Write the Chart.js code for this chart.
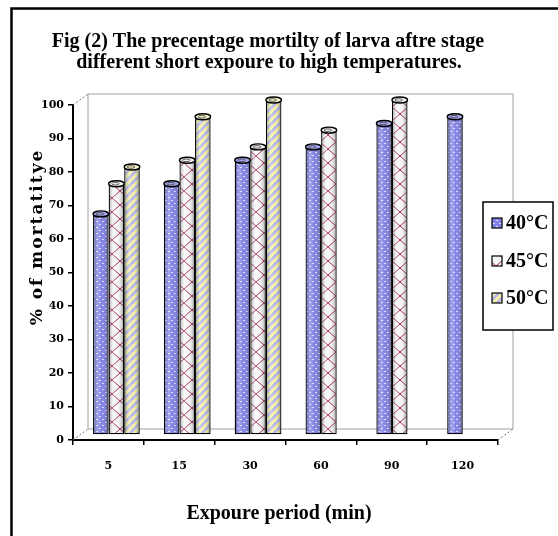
<!DOCTYPE html>
<html>
<head>
<meta charset="utf-8">
<script src="https://cdn.jsdelivr.net/npm/chart.js@4.4.1/dist/chart.umd.min.js"></script>
<style>
  html, body { margin: 0; padding: 0; background: #fff; }
  #wrap { width: 558px; height: 536px; position: relative; }
</style>
</head>
<body>
<div id="wrap"><canvas id="c" width="558" height="536"></canvas></div>
<script>
// ---- data ----
const categories = ['5', '15', '30', '60', '90', '120'];
const seriesNames = ['40°C', '45°C', '50°C'];
const s40 = [66, 75, 82, 86, 93, 95];
const s45 = [75, 82, 86, 91, 100, null];
const s50 = [80, 95, 100, null, null, null];
const titleLines = ['Fig (2) The precentage mortilty of larva aftre stage',
                    'different short expoure to high temperatures.'];
const yTitle = '% of mortatitye';
const xTitle = 'Expoure period (min)';

// ---- patterns ----
function tile(w, h, fn) {
  const c = document.createElement('canvas');
  c.width = w; c.height = h;
  const g = c.getContext('2d');
  fn(g, w, h);
  return document.getElementById('c').getContext('2d').createPattern(c, 'repeat');
}
const patDots = tile(6, 6, (g) => {
  g.fillStyle = '#8282e6'; g.fillRect(0, 0, 6, 6);
  g.fillStyle = '#dcdcff';
  g.fillRect(1, 1, 2, 1); g.fillRect(4, 4, 2, 1);
});
const patHatch = tile(16, 14, (g) => {
  g.fillStyle = '#f6f6f6'; g.fillRect(0, 0, 16, 14);
  g.strokeStyle = '#a3245e'; g.lineWidth = 1;
  g.beginPath();
  g.moveTo(0, 0); g.lineTo(8, 7); g.lineTo(16, 0);
  g.moveTo(0, 14); g.lineTo(8, 7); g.lineTo(16, 14);
  g.stroke();
});
const patStripes = tile(8, 8, (g) => {
  g.fillStyle = '#f3f0a6'; g.fillRect(0, 0, 8, 8);
  g.strokeStyle = '#b4b4ee'; g.lineWidth = 2.6;
  g.beginPath();
  g.moveTo(-2, 10); g.lineTo(10, -2);
  g.moveTo(-6, 6); g.lineTo(6, -6);
  g.moveTo(2, 14); g.lineTo(14, 2);
  g.stroke();
});
const fills = [patDots, patHatch, patStripes];
const capColors = ['#a9a9f2', '#f4f4f4', '#f7f5c8'];

const DX = 8, DY = -5;      // bar depth shift
const WX = 15, WY = -11;    // back wall depth

const deco = {
  id: 'deco',
  beforeDatasetsDraw(chart) {
    const { ctx, chartArea: a } = chart;
    ctx.save();
    ctx.strokeStyle = '#a0a0a0';
    ctx.lineWidth = 1;
    ctx.beginPath();
    ctx.moveTo(a.left + WX, a.bottom + WY);
    ctx.lineTo(a.left + WX, a.top + WY);
    ctx.lineTo(a.right + WX, a.top + WY);
    ctx.lineTo(a.right + WX, a.bottom + WY);
    ctx.lineTo(a.left + WX, a.bottom + WY);
    ctx.stroke();
    ctx.setLineDash([2, 2]);
    ctx.strokeStyle = '#707070';
    ctx.beginPath();
    ctx.moveTo(a.left, a.top); ctx.lineTo(a.left + WX, a.top + WY);
    ctx.moveTo(a.left, a.bottom); ctx.lineTo(a.left + WX, a.bottom + WY);
    ctx.moveTo(a.right, a.bottom); ctx.lineTo(a.right + WX, a.bottom + WY);
    ctx.stroke();
    ctx.restore();
    ctx.save();
    ctx.translate(DX, DY);
  },
  afterDatasetsDraw(chart) {
    const { ctx } = chart;
    chart.data.datasets.forEach((ds, di) => {
      const meta = chart.getDatasetMeta(di);
      meta.data.forEach((el, i) => {
        if (ds.data[i] === null || ds.data[i] === undefined) return;
        const p = el.getProps(['x', 'y', 'base', 'width'], true);
        const l = p.x - p.width / 2, r = p.x + p.width / 2;
        const gr = ctx.createLinearGradient(l, 0, r, 0);
        gr.addColorStop(0, 'rgba(0,0,0,0.22)');
        gr.addColorStop(0.3, 'rgba(255,255,255,0.28)');
        gr.addColorStop(0.55, 'rgba(255,255,255,0.0)');
        gr.addColorStop(1, 'rgba(0,0,0,0.4)');
        ctx.fillStyle = gr;
        ctx.fillRect(l + 1, p.y, p.width - 2, p.base - p.y - 1);
        ctx.beginPath();
        ctx.ellipse(p.x, p.y, p.width / 2, 3, 0, 0, Math.PI * 2);
        ctx.fillStyle = capColors[di];
        ctx.fill();
        ctx.lineWidth = 1.4;
        ctx.strokeStyle = '#000';
        ctx.stroke();
        ctx.beginPath();
        ctx.ellipse(p.x - 1, p.y, p.width / 2 - 4, 1.3, 0, 0, Math.PI * 2);
        ctx.strokeStyle = '#333';
        ctx.lineWidth = 0.8;
        ctx.stroke();
      });
    });
    ctx.restore();
  },
  afterDraw(chart) {
    const { ctx } = chart;
    ctx.save();
    // frame
    ctx.strokeStyle = '#000';
    ctx.lineWidth = 2.5;
    ctx.beginPath();
    ctx.moveTo(11.5, 536); ctx.lineTo(11.5, 8.5); ctx.lineTo(558, 8.5);
    ctx.stroke();
    // title
    ctx.fillStyle = '#000';
    ctx.font = 'bold 20px "Liberation Serif"';
    ctx.textAlign = 'center';
    ctx.textBaseline = 'alphabetic';
    ctx.fillText(titleLines[0], 268, 47);
    ctx.fillText(titleLines[1], 269, 68);
    // x title
    ctx.fillText(xTitle, 279, 519);
    // y title
    ctx.save();
    ctx.translate(42, 237);
    ctx.rotate(-Math.PI / 2);
    ctx.font = 'bold 17px "DejaVu Serif"';
    ctx.letterSpacing = '2px';
    ctx.fillText(yTitle, 0, 0);
    ctx.restore();
    // legend
    const lx = 483, ly = 202, lw = 70, lh = 128;
    ctx.fillStyle = '#fff';
    ctx.fillRect(lx, ly, lw, lh);
    ctx.lineWidth = 1.5;
    ctx.strokeStyle = '#000';
    ctx.strokeRect(lx, ly, lw, lh);
    const ys = [223, 261, 298];
    ctx.font = 'bold 20px "Liberation Serif"';
    ctx.textAlign = 'left';
    ctx.textBaseline = 'middle';
    seriesNames.forEach((n, k) => {
      ctx.fillStyle = fills[k];
      ctx.fillRect(492, ys[k] - 5, 10, 10);
      ctx.lineWidth = 1.2;
      ctx.strokeRect(492, ys[k] - 5, 10, 10);
      ctx.fillStyle = '#000';
      ctx.fillText(n, 506, ys[k] + 1);
    });
    ctx.restore();
  }
};

const tickFont = { family: '"DejaVu Serif"', size: 11, weight: 'bold' };

new Chart(document.getElementById('c'), {
  type: 'bar',
  data: {
    labels: categories,
    datasets: [s40, s45, s50].map((d, k) => ({
      label: seriesNames[k],
      data: d,
      backgroundColor: fills[k],
      borderColor: '#000',
      borderWidth: 1.3,
      borderSkipped: false,
      categoryPercentage: 0.66,
      barPercentage: 1.0,
      clip: false
    }))
  },
  options: {
    responsive: false,
    animation: false,
    layout: { padding: { left: 0, top: 105, right: 60, bottom: 0 } },
    plugins: { legend: { display: false }, title: { display: false }, tooltip: { enabled: false } },
    scales: {
      x: {
        afterFit(s) { s.height = 96; },
        grid: { display: true, drawOnChartArea: false, drawTicks: true, tickLength: 5, color: '#000', lineWidth: 1.5, offset: true },
        border: { display: true, color: '#000', width: 2 },
        ticks: { color: '#000', font: tickFont, padding: 15 }
      },
      y: {
        min: 0, max: 100,
        afterFit(s) { s.width = 73; },
        grid: { display: true, drawOnChartArea: false, drawTicks: true, tickLength: 5, color: '#000', lineWidth: 1.5 },
        border: { display: true, color: '#000', width: 2 },
        ticks: { stepSize: 10, color: '#000', font: tickFont, padding: 4 }
      }
    }
  },
  plugins: [deco]
});
</script>
</body>
</html>
